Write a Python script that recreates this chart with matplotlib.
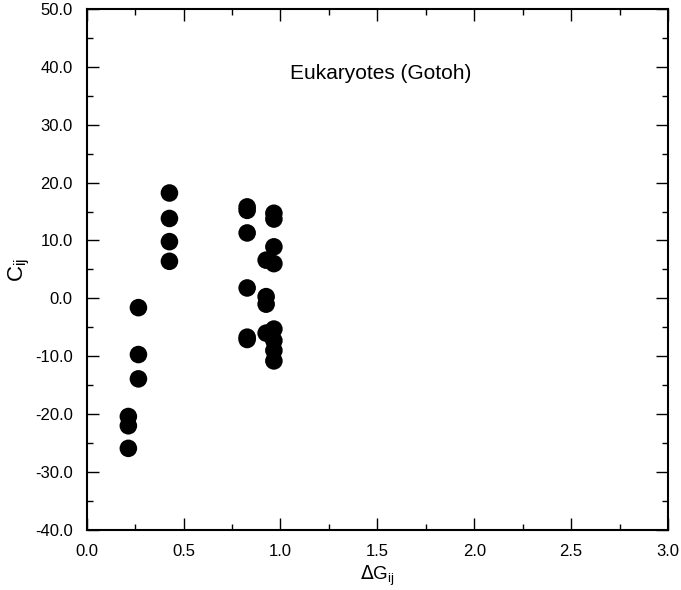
import matplotlib
matplotlib.use("Agg")
import matplotlib.pyplot as plt
from matplotlib.ticker import MultipleLocator, FormatStrFormatter

plt.rcParams['font.family'] = ['Liberation Sans', 'DejaVu Sans']

delta_g = [0.215, 0.215, 0.215,
           0.267, 0.267, 0.267,
           0.427, 0.427, 0.427, 0.427,
           0.828, 0.828, 0.828, 0.828, 0.828, 0.828,
           0.926, 0.926, 0.926, 0.926,
           0.966, 0.966, 0.966, 0.966, 0.966, 0.966, 0.966, 0.966]
c_ij = [-20.4, -22.0, -25.9,
        -1.6, -9.7, -13.9,
        18.2, 13.8, 9.8, 6.4,
        15.8, 15.2, 11.3, 1.8, -6.7, -7.1,
        6.6, 0.3, -1.0, -6.0,
        14.7, 13.7, 8.9, 6.0, -5.3, -7.3, -9.0, -10.8]

x_ticks = [0.0, 0.5, 1.0, 1.5, 2.0, 2.5, 3.0]
y_ticks = [-40, -30, -20, -10, 0, 10, 20, 30, 40, 50]
title_text = "Eukaryotes (Gotoh)"

fig = plt.figure(figsize=(6.81, 5.90), dpi=100)
ax = fig.add_axes([0.1273, 0.1017, 0.981 - 0.1273, 0.985 - 0.1017])

ax.scatter(delta_g, c_ij, s=160, c='black', edgecolors='none', zorder=3)

ax.set_xlim(0, 3)
ax.set_ylim(-40, 50)
ax.set_xticks(x_ticks)
ax.set_yticks(y_ticks)
ax.xaxis.set_minor_locator(MultipleLocator(0.25))
ax.yaxis.set_minor_locator(MultipleLocator(5))
ax.xaxis.set_major_formatter(FormatStrFormatter('%.1f'))
ax.yaxis.set_major_formatter(FormatStrFormatter('%.1f'))

for s in ax.spines.values():
    s.set_linewidth(1.5)

ax.tick_params(which='both', direction='in', top=True, right=True, labelsize=12, width=1.0)
ax.tick_params(which='major', length=8.4, pad=10)
ax.tick_params(which='minor', length=4.2)

ax.text(1.517, 38.75, title_text, ha='center', va='center', fontsize=15)

ax.set_xlabel(r'$\Delta$G$_{\mathregular{ij}}$', fontsize=13.5, labelpad=3)
ax.set_ylabel(r'C$_{\mathregular{ij}}$', fontsize=16, labelpad=2)

fig.savefig('out.png', dpi=100)
